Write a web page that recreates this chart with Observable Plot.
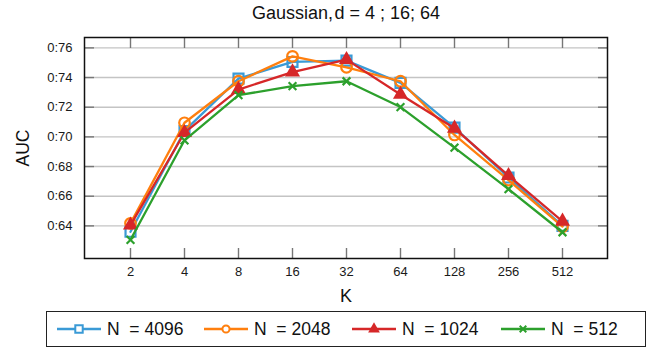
<!DOCTYPE html>
<html>
<head>
<meta charset="utf-8">
<script src="https://cdn.jsdelivr.net/npm/d3@7"></script>
<script src="https://cdn.jsdelivr.net/npm/@observablehq/plot@0.6"></script>
<style>
  html, body { margin: 0; padding: 0; background: #fff; }
  #wrap { position: relative; width: 654px; height: 352px; font-family: "Liberation Sans", Arial, sans-serif; color: #111; }
  #title { position: absolute; left: 346px; top: 13px; font-size: 18px; white-space: nowrap; transform: translate(-50%, -50%); }
  #ylab { position: absolute; left: 23px; top: 148px; font-size: 17.5px; transform: translate(-50%, -50%) rotate(-90deg); }
  #xlab { position: absolute; left: 346px; top: 296px; font-size: 18px; transform: translate(-50%, -50%); }
  #legend { position: absolute; left: 46px; top: 311px; width: 598px; height: 34px; border: 1.3px solid #222; }
  .item { position: absolute; top: 0; height: 34px; display: flex; align-items: center; font-size: 17.5px; white-space: pre; }
  .item svg { margin-right: 6px; }
  #chart svg text { font-size: 13px !important; fill: #1a1a1a; }
</style>
</head>
<body>
<div id="wrap">
  <div id="chart"></div>
  <div id="title">Gaussian,&#8202;d = 4 ; 16; 64</div>
  <div id="ylab">AUC</div>
  <div id="xlab">K</div>
  <div id="legend"></div>
</div>
<script>
const K = ["2", "4", "8", "16", "32", "64", "128", "256", "512"];
const seriesNames = ["N  = 4096", "N  = 2048", "N  = 1024", "N  = 512"];
const colors = ["#3a9ad6", "#ff7f0e", "#d62728", "#2ca02c"];
const symbols = ["square", "circle", "triangle", "times"];
const filled = [false, false, true, false];
const auc4096 = [0.636, 0.704, 0.7393, 0.7505, 0.7514, 0.7364, 0.7062, 0.6726, 0.6400];
const auc2048 = [0.6417, 0.7095, 0.7375, 0.7543, 0.7469, 0.7375, 0.7013, 0.6709, 0.6395];
const auc1024 = [0.6405, 0.7028, 0.7319, 0.7437, 0.7521, 0.7286, 0.7058, 0.6738, 0.6431];
const auc512  = [0.6306, 0.6977, 0.7281, 0.7342, 0.7375, 0.7201, 0.6927, 0.6648, 0.6357];
const yTicks = [0.64, 0.66, 0.68, 0.70, 0.72, 0.74, 0.76];
const yTickLabels = ["0:64", "0:66", "0:68", "0:70", "0:72", "0:74", "0:76"];

const allSeries = [auc4096, auc2048, auc1024, auc512];
const rows = allSeries.map((vals, s) => vals.map((v, i) => ({k: K[i], auc: v, series: seriesNames[s]})));

const seriesMarks = rows.flatMap((data, s) => [
  Plot.line(data, {x: "k", y: "auc", stroke: colors[s], strokeWidth: 2.3}),
  Plot.dot(data, {
    x: "k", y: "auc", symbol: () => symbols[s],
    r: symbols[s] === "square" ? 5.6 : symbols[s] === "circle" ? 5.3 : symbols[s] === "triangle" ? 5.6 : 3.6,
    stroke: filled[s] ? "none" : colors[s],
    fill: filled[s] ? colors[s] : "none",
    strokeWidth: 2.2
  })
]);

const chart = Plot.plot({
  width: 654,
  height: 310,
  marginTop: 37,
  marginLeft: 84,
  marginRight: 47,
  marginBottom: 52,
  style: {fontFamily: "'Liberation Sans', Arial, sans-serif", fontSize: "13px", color: "#111", background: "white"},
  x: {type: "point", domain: K, padding: 0.79},
  y: {domain: [0.618, 0.767]},
  symbol: {domain: symbols, range: symbols},
  marks: [
    Plot.gridY(yTicks, {stroke: "#c4c4c4", strokeOpacity: 1, strokeWidth: 1.4}),
    Plot.axisY(yTicks, {anchor: "left", tickSize: -10, tickPadding: 22, stroke: "#777", strokeWidth: 1.4, fontSize: 13,
      tickFormat: d => yTickLabels[yTicks.indexOf(d)], label: null}),
    Plot.axisY(yTicks, {anchor: "right", tickSize: -10, stroke: "#777", strokeWidth: 1.4, tickFormat: () => "", label: null}),
    Plot.axisX(K, {anchor: "bottom", tickSize: -10, tickPadding: 18, stroke: "#777", strokeWidth: 1.4, fontSize: 13, label: null}),
    Plot.axisX(K, {anchor: "top", tickSize: -10, stroke: "#777", strokeWidth: 1.4, tickFormat: () => "", label: null}),
    Plot.frame({stroke: "#111", strokeWidth: 1.5}),
    ...seriesMarks
  ]
});
document.getElementById("chart").appendChild(chart);

// legend
const legend = document.getElementById("legend");
const lefts = [57, 204, 352, 501];
const sizes = {square: 55, circle: 40, triangle: 60, times: 30};
seriesNames.forEach((name, s) => {
  const item = document.createElement("div");
  item.className = "item";
  item.style.left = (lefts[s] - 47) + "px";
  const svg = d3.create("svg").attr("width", 44).attr("height", 14);
  svg.append("line").attr("x1", 0).attr("x2", 44).attr("y1", 7).attr("y2", 7)
    .attr("stroke", colors[s]).attr("stroke-width", 2.3);
  const symType = {square: d3.symbolSquare, circle: d3.symbolCircle, triangle: d3.symbolTriangle, times: d3.symbolTimes}[symbols[s]];
  svg.append("path").attr("transform", "translate(22,7)")
    .attr("d", d3.symbol(symType, sizes[symbols[s]])())
    .attr("fill", filled[s] ? colors[s] : "white")
    .attr("stroke", filled[s] ? "none" : colors[s])
    .attr("stroke-width", 2);
  item.appendChild(svg.node());
  item.appendChild(document.createTextNode(name));
  legend.appendChild(item);
});
</script>
</body>
</html>
